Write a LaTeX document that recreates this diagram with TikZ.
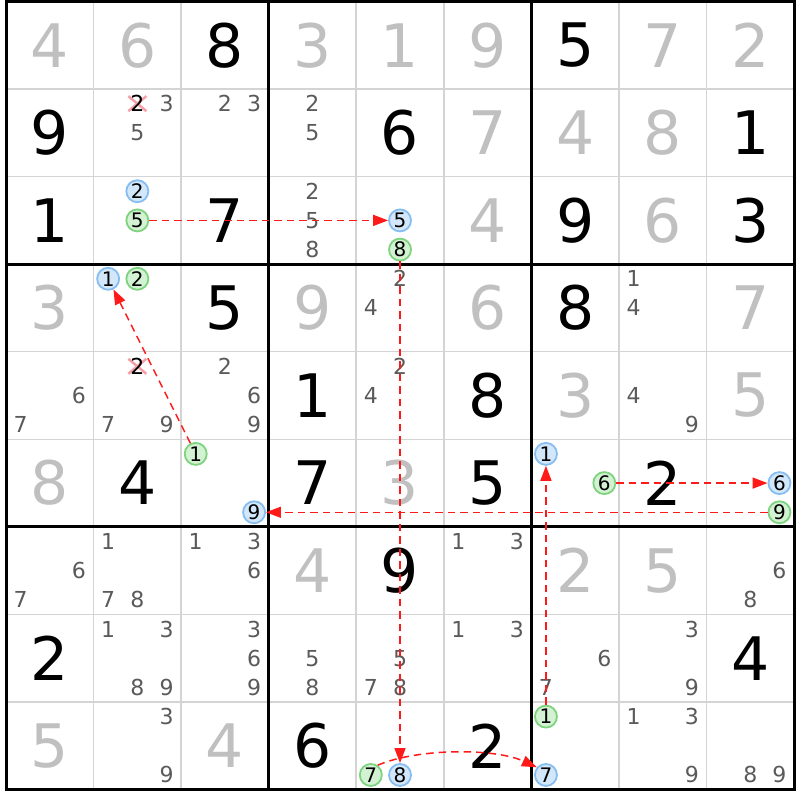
\documentclass[tikz,border=0pt]{standalone}
\usepackage{fontspec}
\setmainfont{DejaVu Sans}
\usetikzlibrary{arrows.meta}
\definecolor{solvedgray}{HTML}{C0C0C0}
\definecolor{candgray}{HTML}{5A5A5A}
\definecolor{gridgray}{HTML}{D4D4D4}
\definecolor{bluefill}{HTML}{D3E7FB}
\definecolor{bluedraw}{HTML}{86BEF2}
\definecolor{greenfill}{HTML}{D3F1D3}
\definecolor{greendraw}{HTML}{7ED47E}
\definecolor{crosspink}{HTML}{F3A0A8}
\definecolor{arrowred}{HTML}{FF1A1A}
\newcommand\subpos[3]{% r c d -> defines \px \py
  \pgfmathtruncatemacro\sc{mod(#3-1,3)}%
  \pgfmathtruncatemacro\sr{(#3-1)/3}%
  \pgfmathsetmacro\px{6+(#2+0.5)*87.56+(\sc-1)*29.19}%
  \pgfmathsetmacro\py{1.5+(#1+0.5)*87.56+(\sr-1)*29.19}%
}
\newcommand\hlcand[4]{% r c d style
  \subpos{#1}{#2}{#3}%
  \node[#4] (x#1#2#3) at (\px,\py) {#3};%
}
\begin{document}
\begin{tikzpicture}[x=1pt,y=-1pt,
  given/.style={font=\fontsize{60}{60}\selectfont, text=black, inner sep=0pt},
  solved/.style={given, text=solvedgray},
  cand/.style={font=\fontsize{22}{22}\selectfont, text=candgray, inner sep=0pt},
  crossed/.style={cand, text=black},
  hlblue/.style={circle, draw=bluedraw, fill=bluefill, line width=1.8pt, minimum size=22pt, inner sep=0pt, text=black, font=\fontsize{20}{20}\selectfont},
  hlgreen/.style={hlblue, draw=greendraw, fill=greenfill},
  minorline/.style={draw=gridgray, line width=1.5pt},
  majorline/.style={draw=black, line width=3pt},
  crossline/.style={draw=crosspink, line width=2.5pt},
  link/.style={draw=arrowred, line width=1.5pt, dash pattern=on 7.5pt off 5pt, -{Triangle[length=15pt,width=11pt]}}
]
\fill[white] (0,0) rectangle (800,800);
\useasboundingbox (0,0) rectangle (800,800);
% grid
\foreach \i in {1,2,4,5,7,8}{
  \draw[minorline] ({6+\i*87.56},1.5) -- ({6+\i*87.56},789.5);
  \draw[minorline] (6,{1.5+\i*87.56}) -- (794,{1.5+\i*87.56});
}
\foreach \i in {3,6}{
  \draw[majorline] ({6+\i*87.56},1.5) -- ({6+\i*87.56},789.5);
  \draw[majorline] (6,{1.5+\i*87.56}) -- (794,{1.5+\i*87.56});
}
\draw[majorline] (6,1.5) rectangle (794,789.5);
% given digits
\foreach \r/\c/\d in {0/2/8, 0/6/5, 1/0/9, 1/4/6, 1/8/1, 2/0/1, 2/2/7, 2/6/9, 2/8/3, 3/2/5, 3/6/8, 4/3/1, 4/5/8, 5/1/4, 5/3/7, 5/5/5, 5/7/2, 6/4/9, 7/0/2, 7/8/4, 8/3/6, 8/5/2}
  \node[given] (v\r\c) at ({6+(\c+0.5)*87.56},{1.5+(\r+0.5)*87.56}) {\d};
% solved digits
\foreach \r/\c/\d in {0/0/4, 0/1/6, 0/3/3, 0/4/1, 0/5/9, 0/7/7, 0/8/2, 1/5/7, 1/6/4, 1/7/8, 2/5/4, 2/7/6, 3/0/3, 3/3/9, 3/5/6, 3/8/7, 4/6/3, 4/8/5, 5/0/8, 5/4/3, 6/3/4, 6/6/2, 6/7/5, 8/0/5, 8/2/4}
  \node[solved] (s\r\c) at ({6+(\c+0.5)*87.56},{1.5+(\r+0.5)*87.56}) {\d};
% candidates
\foreach \r/\c/\ds in {1/1/{3,5}, 1/2/{2,3}, 1/3/{2,5}, 2/3/{2,5,8}, 3/4/{2,4}, 3/7/{1,4}, 4/0/{6,7}, 4/1/{7,9}, 4/2/{2,6,9}, 4/4/{2,4}, 4/7/{4,9}, 6/0/{6,7}, 6/1/{1,7,8}, 6/2/{1,3,6}, 6/5/{1,3}, 6/8/{6,8}, 7/1/{1,3,8,9}, 7/2/{3,6,9}, 7/3/{5,8}, 7/4/{5,7,8}, 7/5/{1,3}, 7/6/{6,7}, 7/7/{3,9}, 8/1/{3,9}, 8/7/{1,3,9}, 8/8/{8,9}}{
  \foreach \d in \ds {
    \subpos{\r}{\c}{\d}
    \node[cand] (c\r\c\d) at (\px,\py) {\d};
  }
}
% crossed-out candidates
\foreach \r in {1,4}{
  \subpos{\r}{1}{2}
  \coordinate (k\r) at (\px,\py);
  \draw[crossline] ([shift={(-9,-7.5)}]k\r) -- ([shift={(9,7.5)}]k\r);
  \draw[crossline] ([shift={(-9,7.5)}]k\r) -- ([shift={(9,-7.5)}]k\r);
  \node[crossed] (k\r12) at (k\r) {2};
}
% highlighted candidates
\hlcand{2}{1}{2}{hlblue}
\hlcand{2}{1}{5}{hlgreen}
\hlcand{2}{4}{5}{hlblue}
\hlcand{2}{4}{8}{hlgreen}
\hlcand{3}{1}{1}{hlblue}
\hlcand{3}{1}{2}{hlgreen}
\hlcand{5}{2}{1}{hlgreen}
\hlcand{5}{2}{9}{hlblue}
\hlcand{5}{6}{1}{hlblue}
\hlcand{5}{6}{6}{hlgreen}
\hlcand{5}{8}{6}{hlblue}
\hlcand{5}{8}{9}{hlgreen}
\hlcand{8}{4}{7}{hlgreen}
\hlcand{8}{4}{8}{hlblue}
\hlcand{8}{6}{1}{hlgreen}
\hlcand{8}{6}{7}{hlblue}
% links
\draw[link] (x215) -- (x245);
\draw[link] (x248) -- (x848);
\draw[link] (x847.55) .. controls (418,748) and (495,748) .. (x867.140);
\draw[link] (x861) -- (x561);
\draw[link] (x566) -- (x586);
\draw[link] (x589) -- (x529);
\draw[link] (x521) -- (x311);
\end{tikzpicture}
\end{document}
